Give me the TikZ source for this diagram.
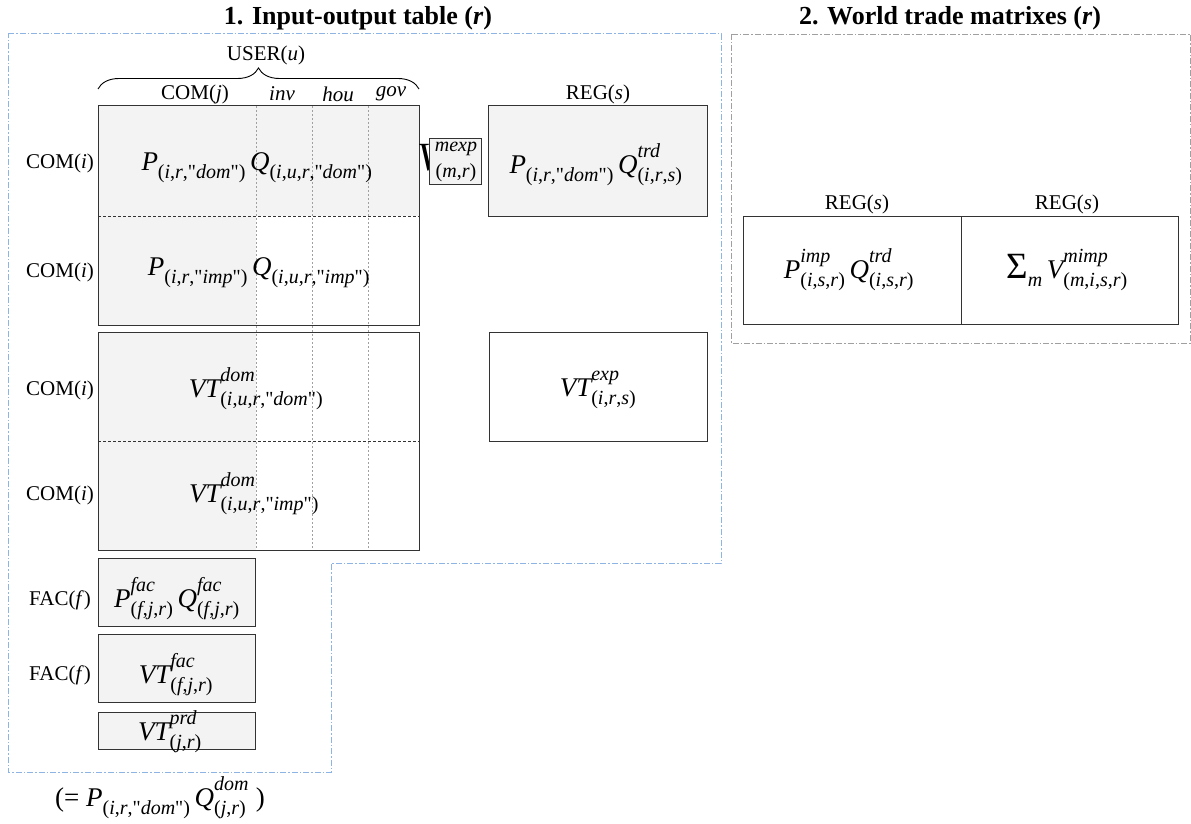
\documentclass[tikz,border=0pt]{standalone}
\usepackage{amsmath}
\usepackage{fontspec}
\setmainfont{Liberation Serif}[Ligatures=TeXOff]
\usetikzlibrary{decorations.pathreplacing}
\DeclareMathSizes{27}{27}{20}{15}
\newcommand{\ix}[1]{\textit{#1}}
\newcommand{\mt}[1]{\text{\itshape #1}}
\newcommand{\qq}{\text{\upshape"}}
\newcommand{\mfix}{\fontdimen16\textfont2=8pt \fontdimen17\textfont2=8pt \fontdimen14\textfont2=16pt \fontdimen13\textfont2=16pt }
\definecolor{shade}{HTML}{F3F3F3}
\definecolor{blueln}{HTML}{8DB4E2}
\definecolor{grayln}{HTML}{A0A0A0}
\definecolor{boxln}{HTML}{333333}
\begin{document}
\begin{tikzpicture}[x=1pt,y=-1pt,
  lbl/.style={inner sep=0pt,font=\fontsize{21}{24}\selectfont},
  fml/.style={inner sep=0pt,anchor=base,font=\fontsize{27}{32}\selectfont},
  ttl/.style={inner sep=0pt,font=\fontsize{26}{30}\selectfont\bfseries},
  tbox/.style={draw=boxln,line width=1pt},
  shd/.style={fill=shade},
  vdot/.style={draw=grayln,line width=0.8pt,dash pattern=on 2pt off 2pt},
  hdash/.style={draw=boxln,line width=0.8pt,dash pattern=on 3pt off 2pt},
  blueframe/.style={draw=blueln,line width=1pt,dash pattern=on 6pt off 2pt on 1.5pt off 2pt},
  grayframe/.style={draw=grayln,line width=0.9pt,dash pattern=on 6pt off 2pt on 1.5pt off 2pt}]
\useasboundingbox (0,0) rectangle (1191,824);

% titles
\node[ttl] (t1) at (358,18) {1. Input-output table (\textit{r})};
\node[ttl] (t2) at (950,18) {2. World trade matrixes (\textit{r})};

% frames
\draw[blueframe] (8,34) -- (721,34) -- (721,563) -- (331,563) -- (331,772) -- (8,772) -- cycle;
\draw[grayframe] (731,34) rectangle (1190,343);

% shading
\fill[shd] (98,106) rectangle (419,216);
\fill[shd] (98,216) rectangle (256,325);
\fill[shd] (98,332) rectangle (256,550);
\fill[shd] (488,106) rectangle (707,216);
\fill[shd] (98,558) rectangle (255,626);
\fill[shd] (98,634) rectangle (255,702);
\fill[shd] (98,712) rectangle (255,749);

% dotted column separators
\foreach \xx in {256,312,368} \draw[vdot] (\xx,106) -- (\xx,550);
% dashed row separators
\draw[hdash] (98,216) -- (419,216);
\draw[hdash] (98,441) -- (419,441);

% boxes
\draw[tbox] (98,106) rectangle (419,325);
\draw[tbox] (98,332) rectangle (419,550);
\draw[tbox] (488,106) rectangle (707,216);
\draw[tbox] (489,332) rectangle (707,441);
\draw[tbox] (98,558) rectangle (255,626);
\draw[tbox] (98,634) rectangle (255,702);
\draw[tbox] (98,712) rectangle (255,749);
\draw[tbox] (743,216) rectangle (1178,324);
\draw[tbox] (961,216) -- (961,324);

% brace and headers
\draw[line width=0.9pt,decorate,decoration={brace,amplitude=21pt}] (98,89) -- (419,89);
\node[lbl] (user) at (266,55) {USER(\textit{u})};
\node[lbl] (comj) at (195,94) {COM(\textit{j})};
\node[lbl] (inv) at (282,94) {\textit{inv}};
\node[lbl] (hou) at (338,94) {\textit{hou}};
\node[lbl] (gov) at (391,94) {\textit{gov}};
\node[lbl] (regs1) at (598,94) {REG(\textit{s})};
\node[lbl] (regs2) at (857,204) {REG(\textit{s})};
\node[lbl] (regs3) at (1067,204) {REG(\textit{s})};

% row labels
\node[lbl] (ci1) at (60,163) {COM(\textit{i})};
\node[lbl] (ci2) at (60,272) {COM(\textit{i})};
\node[lbl] (ci3) at (60,390) {COM(\textit{i})};
\node[lbl] (ci4) at (60,495) {COM(\textit{i})};
\node[lbl] (f1) at (60,600) {FAC(\textit{f})};
\node[lbl] (f2) at (60,675) {FAC(\textit{f})};

% formulas
\node[fml] (m1) at (257,170) {$\mfix\mt{P}_{\text{(\ix{i},\ix{r},\qq\ix{dom}\qq)}}\,\mt{Q}_{\text{(\ix{i},\ix{u},\ix{r},\qq\ix{dom}\qq)}}$};
\node[fml] (m2) at (259,275) {$\mfix\mt{P}_{\text{(\ix{i},\ix{r},\qq\ix{imp}\qq)}}\,\mt{Q}_{\text{(\ix{i},\ix{u},\ix{r},\qq\ix{imp}\qq)}}$};
\node[fml] (m3) at (256,397) {$\mfix\mt{VT}^{\mt{dom}}_{\text{(\ix{i},\ix{u},\ix{r},\qq\ix{dom}\qq)}}$};
\node[fml] (m4) at (254,502) {$\mfix\mt{VT}^{\mt{dom}}_{\text{(\ix{i},\ix{u},\ix{r},\qq\ix{imp}\qq)}}$};
\node[fml] (m5) at (596,173) {$\mfix\mt{P}_{\text{(\ix{i},\ix{r},\qq\ix{dom}\qq)}}\,\mt{Q}^{\mt{trd}}_{\text{(\ix{i},\ix{r},\ix{s})}}$};
\node[fml] (m6) at (598,396) {$\mfix\mt{VT}^{\mt{exp}}_{\text{(\ix{i},\ix{r},\ix{s})}}$};
\node[fml] (m7) at (177,607) {$\mfix\mt{P}^{\mt{fac}}_{\text{(\ix{f},\ix{j},\ix{r})}}\,\mt{Q}^{\mt{fac}}_{\text{(\ix{f},\ix{j},\ix{r})}}$};
\node[fml] (m8) at (176,683) {$\mfix\mt{VT}^{\mt{fac}}_{\text{(\ix{f},\ix{j},\ix{r})}}$};
\node[fml] (m9) at (170,740) {$\mfix\mt{VT}^{\mt{prd}}_{\text{(\ix{j},\ix{r})}}$};
\node[fml] (m10) at (160,806) {(= $\mfix\mt{P}_{\text{(\ix{i},\ix{r},\qq\ix{dom}\qq)}}\,\mt{Q}^{\mt{dom}}_{\text{(\ix{j},\ix{r})}}$ )};
\node[fml] (m11) at (849,278) {$\mfix\mt{P}^{\mt{imp}}_{\text{(\ix{i},\ix{s},\ix{r})}}\,\mt{Q}^{\mt{trd}}_{\text{(\ix{i},\ix{s},\ix{r})}}$};
\node[fml] (m12) at (1067,278) {$\mfix\text{\fontsize{37}{37}\selectfont Σ}_{\mt{m}}\,\mt{V}^{\mt{mimp}}_{\text{(\ix{m},\ix{i},\ix{s},\ix{r})}}$};

% V^mexp_(m,r)
\node[inner sep=0pt,anchor=base west,font=\fontsize{40}{44}\selectfont] (vv) at (417,170) {\textit{V}};
\draw[tbox,fill=shade] (429,139) rectangle (481,184);
\node[inner sep=0pt,anchor=base,font=\fontsize{20}{22}\selectfont] (vsup) at (456,152) {\textit{mexp}};
\node[inner sep=0pt,anchor=base,font=\fontsize{20}{22}\selectfont] (vsub) at (456,177) {(\textit{m},\textit{r})};
\end{tikzpicture}
\end{document}
